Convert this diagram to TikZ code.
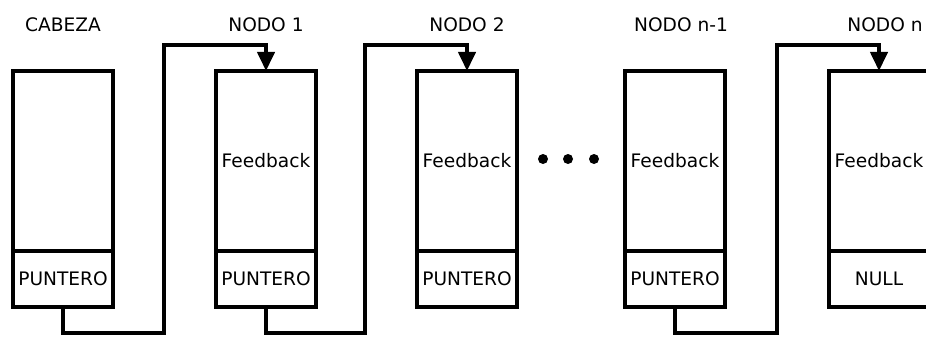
\documentclass[tikz,border=0pt]{standalone}
\usepackage{fontspec}
\setmainfont{DejaVu Sans}
\usetikzlibrary{positioning, arrows.meta}

\begin{document}
\begin{tikzpicture}[
    x = 1pt, y = 1pt,
    line width = 4pt,
    font = \fontsize{18.6pt}{22pt}\selectfont,
    datos/.style = {draw, rectangle, minimum width = 100pt,
      minimum height = 180pt, inner sep = 0pt, outer sep = 0pt},
    puntero/.style = {draw, rectangle, minimum width = 100pt,
      minimum height = 56pt, inner sep = 0pt, outer sep = 0pt},
    titulo/.style = {inner sep = 0pt},
    enlace/.style = {-{Triangle[length = 19pt, width = 17pt]}}
  ]
  \clip (0, 0) rectangle (926, 338);

  % cabeza
  \node[datos] (cab) at (63, 177) {};
  \node[puntero, below = 0pt of cab] (cabP) {PUNTERO};
  \node[titulo, above = 37pt of cab] (tcab) {CABEZA};

  % nodos
  \node[datos] (n1) at (266, 177) {Feedback};
  \node[puntero, below = 0pt of n1] (n1P) {PUNTERO};
  \node[titulo, above = 37pt of n1] (tn1) {NODO 1};

  \node[datos] (n2) at (467, 177) {Feedback};
  \node[puntero, below = 0pt of n2] (n2P) {PUNTERO};
  \node[titulo, above = 37pt of n2] (tn2) {NODO 2};

  \node[datos] (nm) at (675, 177) {Feedback};
  \node[puntero, below = 0pt of nm] (nmP) {PUNTERO};
  \node[titulo, above = 37pt of nm, xshift = 6pt] (tnm) {NODO n-1};

  \node[datos] (nn) at (879, 177) {Feedback};
  \node[puntero, below = 0pt of nn] (nnP) {NULL};
  \node[titulo, above = 37pt of nn, xshift = 6pt] (tnn) {NODO n};

  % puntos suspensivos
  \foreach \x in {543, 568, 594}
    \fill (\x, 179) circle (5);

  % enlaces
  \draw[enlace] (cabP.south) -- ++(0, -26) -| ++(101, 288) -| (n1.north);
  \draw[enlace] (n1P.south) -- ++(0, -26) -| ++(99, 288) -| (n2.north);
  \draw[enlace] (nmP.south) -- ++(0, -26) -| ++(102, 288) -| (nn.north);
\end{tikzpicture}
\end{document}
